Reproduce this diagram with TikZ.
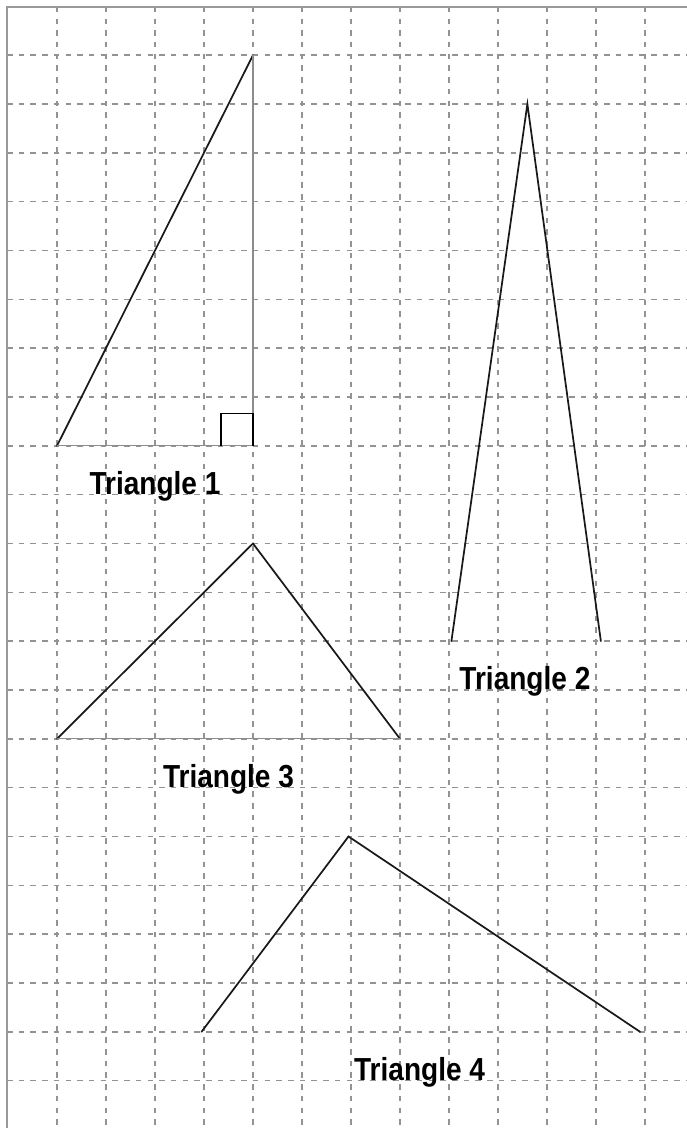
\documentclass[tikz,border=0pt]{standalone}
\usepackage{fontspec}
\newfontfamily\trifont[FakeStretch=0.88]{Liberation Sans}
\usepackage{tikz}

\tikzset{
	gridline/.style={gray!85, line width=0.8pt, dash pattern=on 3.2pt off 3.6pt},
	frameline/.style={gray!80, line width=1.3pt},
	slant/.style={black!90, line width=1pt, line cap=round},
	flat/.style={gray!90, line width=0.7pt},
	tlabel/.style={font=\trifont\bfseries\fontsize{18.5}{20}\selectfont, anchor=base, inner sep=0pt}
}

\begin{document}
\begin{tikzpicture}[x=1cm, y=-0.9966cm]
	\useasboundingbox (-1.163,-1.13) rectangle (12.857,21.97);

	% Draw grid
	\foreach \i in {0,...,12}
		\draw[gridline] (\i,-0.99) -- (\i,21.97);
	\foreach \j in {0,...,21}
		\draw[gridline] (-1.02,\j) -- (12.857,\j);
	%Frame
	\draw[frameline] (-1.02,21.97) -- (-1.02,-0.99) -- (12.857,-0.99);

	%Triangle 1
	\coordinate (A1) at (0,8);
	\coordinate (B1) at (4,0);
	\coordinate (C1) at (4,8);
	\draw[slant] (A1) -- (B1);
	\draw[flat] (B1) -- (C1) -- (A1);
	\draw[black, line width=1pt] (3.34,8) -- (3.34,7.34) -- (4,7.34) -- (C1);
	\node[tlabel] (lab1) at (2,9) {Triangle 1};

	%Triangle 2
	\coordinate (A2) at (8.05,12);
	\coordinate (B2) at (9.6,1);
	\coordinate (C2) at (11.1,12);
	\draw[slant] (A2) -- (B2) -- (C2);
	\node[tlabel] (lab2) at (9.55,13) {Triangle 2};

	%Triangle 3
	\coordinate (A3) at (0,14);
	\coordinate (B3) at (4,10);
	\coordinate (C3) at (7,14);
	\draw[slant] (A3) -- (B3) -- (C3);
	\draw[flat] (C3) -- (A3);
	\node[tlabel] (lab3) at (3.5,15) {Triangle 3};

	%Triangle 4
	\coordinate (A4) at (2.95,20);
	\coordinate (B4) at (5.95,16);
	\coordinate (C4) at (11.9,20);
	\draw[slant] (A4) -- (B4) -- (C4);
	\node[tlabel] (lab4) at (7.4,21) {Triangle 4};

\end{tikzpicture}
\end{document}
